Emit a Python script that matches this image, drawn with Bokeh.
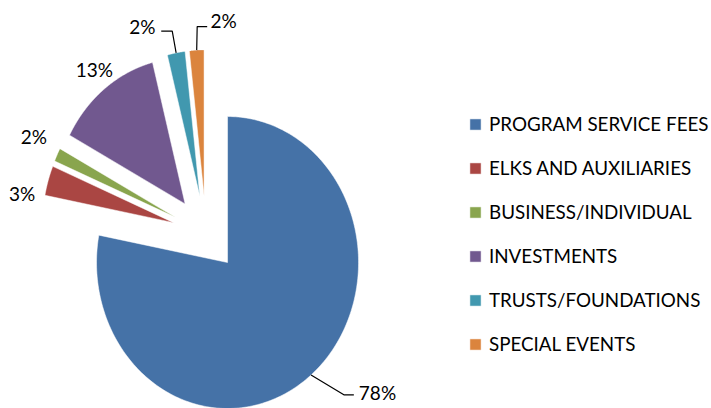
import numpy as np
from bokeh.plotting import figure
from bokeh.models import ColumnDataSource, Range1d, Legend, LegendItem
from bokeh.core.properties import value
from bokeh.embed import file_html
from bokeh.resources import INLINE

# ---------------- data ----------------
categories = ["PROGRAM SERVICE FEES", "ELKS AND AUXILIARIES", "BUSINESS/INDIVIDUAL",
              "INVESTMENTS", "TRUSTS/FOUNDATIONS", "SPECIAL EVENTS"]
shares = [78.0, 3.3, 1.5, 13.2, 2.2, 1.8]
pct_labels = ["78%", "3%", "2%", "13%", "2%", "2%"]
colors = ["#4572A7", "#AA4643", "#89A54E", "#71588F", "#4198AF", "#DB843D"]

# ---------------- layout ----------------
W, H = 711, 408
CX, CY = 205.5, 233.0      # pie centre, canvas px (from left / from top)
RX, RY = 131.0, 146.0      # px per unit radius (horizontal / vertical)
EXPLODE = 0.258
FONT = "Lato"
FSIZE = "19px"
LEGEND_FSIZE = "18.8px"

# label offsets (px, y down) from slice outer mid-point, alignment
label_off = [(47.8, 17.5), (-26.0, 13.2), (-23.3, -18.6), (-9.9, -19.4), (-20.6, -26.6), (13.8, -29.4)]
label_align = ["left", "center", "center", "center", "right", "left"]
# leader lines: list of px offsets (y down) from outer mid-point
leaders = {0: [(0, 0), (32.8, 19.8), (42.8, 19.8)],
           4: [(0, 0), (-3.9, -21.7), (-14.9, -21.7)],
           5: [(0, 0), (0.5, -23.6), (10.5, -23.6)]}

p = figure(width=W, height=H,
           x_range=Range1d(-CX / RX, (W - CX) / RX),
           y_range=Range1d(-(H - CY) / RY, CY / RY),
           output_backend="svg", toolbar_location=None,
           x_axis_location=None, y_axis_location=None, min_border=0)
p.grid.visible = False
p.outline_line_color = None
p.background_fill_color = "white"

total = float(sum(shares))
cum = np.concatenate([[0.0], np.cumsum(shares)]) / total
xs, ys, mx, my = [], [], [], []
for i in range(len(shares)):
    a0 = np.pi / 2 - 2 * np.pi * cum[i]
    a1 = np.pi / 2 - 2 * np.pi * cum[i + 1]
    mid = 0.5 * (a0 + a1)
    ox, oy = EXPLODE * np.cos(mid), EXPLODE * np.sin(mid)
    t = np.linspace(a0, a1, 240)
    xs.append(np.concatenate([[ox], ox + np.cos(t)]).tolist())
    ys.append(np.concatenate([[oy], oy + np.sin(t)]).tolist())
    mx.append((1 + EXPLODE) * np.cos(mid))
    my.append((1 + EXPLODE) * np.sin(mid))

src = ColumnDataSource(dict(xs=xs, ys=ys, color=colors, name=categories))
r = p.patches("xs", "ys", source=src, fill_color="color", line_color="white", line_width=0.5)

# leader lines
lx, ly = [], []
for i, pts in leaders.items():
    lx.append([mx[i] + dx / RX for dx, dy in pts])
    ly.append([my[i] - dy / RY for dx, dy in pts])
p.multi_line(lx, ly, line_color="black", line_width=1.2)

# percentage labels
lsrc = ColumnDataSource(dict(x=mx, y=my, text=pct_labels,
                             xo=[o[0] for o in label_off], yo=[o[1] for o in label_off],
                             align=label_align))
p.text("x", "y", text="text", source=lsrc, x_offset="xo", y_offset="yo",
       text_align="align", text_baseline="middle",
       text_font=value(FONT), text_font_size=FSIZE, text_color="black")

items = [LegendItem(label=categories[i], renderers=[r], index=i) for i in range(len(categories))]
legend = Legend(items=items, location=(468, 53), orientation="vertical",
                glyph_width=14, glyph_height=14, label_standoff=7,
                label_height=23, spacing=21, padding=0, margin=0,
                border_line_color=None, background_fill_alpha=0,
                label_text_font=FONT, label_text_font_size=LEGEND_FSIZE, label_text_color="black")
p.add_layout(legend)

open("out.html", "w").write(file_html(p, INLINE))
